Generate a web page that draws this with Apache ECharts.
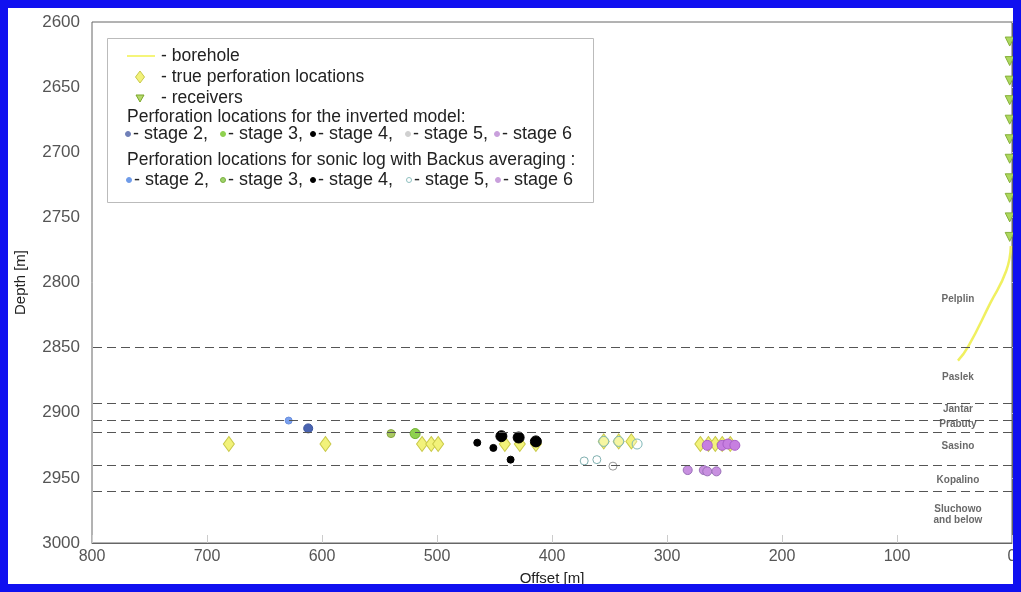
<!DOCTYPE html>
<html>
<head>
<meta charset="utf-8">
<script src="https://cdn.jsdelivr.net/npm/echarts@6/dist/echarts.min.js"></script>
<style>
html,body{margin:0;padding:0;background:#fff;}
#c{width:1021px;height:592px;}
</style>
</head>
<body>
<div id="c"></div>
<script>
// ---- data ----
var xTicks = [800,700,600,500,400,300,200,100,0];
var yTicks = [2600,2650,2700,2750,2800,2850,2900,2950,3000];
var boreholePts = [[1,2772],[5,2791],[19,2816],[38,2849],[47,2860]];
var receiverDepths = [2615,2630,2645,2660,2675,2690,2705,2720,2735,2750,2765];
var receiverOffset = 2;
var truePerf = [[681,2924],[597,2924],[513,2924],[505,2924],[499,2924],[441,2924],[428,2924],[414,2924],[355,2922],[342,2922],[331,2922],[271,2924],[264,2924],[258,2924],[252,2924],[245,2924]];
var inv2 = [[612,2912]];
var inv3 = [[519,2916]];
var inv4 = [[444,2918],[429,2919],[414,2922]];
var inv5 = [[347,2941]];
var inv6 = [[265,2925],[252,2925],[247,2924],[241,2925]];
var bac2 = [[629,2906]];
var bac3 = [[540,2916]];
var bac4 = [[465,2923],[451,2927],[436,2936]];
var bac5 = [[355,2922],[342,2922],[326,2924],[372,2937],[361,2936]];
var bac6 = [[282,2944],[268,2944],[265,2945],[257,2945]];
var boundaries = [2850,2893,2906,2915,2940,2960];
var formationNames = ['Pelplin','Paslek','Jantar','Prabuty','Sasino','Kopalino','Sluchowo\nand below'];
var formationDepths = [2813,2873,2897,2909,2926,2952,2978];
var formationOffset = 47;

var chart = echarts.init(document.getElementById('c'), null, {renderer:'canvas'});
var font = 'Liberation Sans, Arial, sans-serif';

function legendText(x,y,t,fs){return {type:'text',x:x,y:y,style:{text:t,font:(fs||17.5)+'px '+font,fill:'#222',verticalAlign:'middle'}};}
function legendDot(x,y,fill,stroke,r){return {type:'circle',shape:{cx:x,cy:y,r:r||2.5},style:{fill:fill,stroke:stroke||fill,lineWidth:1}};}

var L1 = 56, L2 = 77, L3 = 98, L4 = 117, L5 = 134, L6 = 160, L7 = 180;
var S = 18;
var graphics = [
  {type:'rect',shape:{x:4,y:4,width:1013,height:584},style:{fill:'none',stroke:'#1010f0',lineWidth:8},z:100},
  {type:'rect',shape:{x:107.5,y:38.5,width:486,height:164},style:{fill:'#fff',stroke:'#bbb',lineWidth:1},z:10},
  {type:'line',shape:{x1:127,y1:L1,x2:155,y2:L1},style:{stroke:'#f5f57a',lineWidth:2},z:11},
  legendText(161,L1,'- borehole'),
  {type:'polygon',shape:{points:[[140,L2-6],[144.5,L2],[140,L2+6],[135.5,L2]]},style:{fill:'#f2f27a',stroke:'#c9c94a',lineWidth:1},z:11},
  legendText(161,L2,'- true perforation locations'),
  {type:'polygon',shape:{points:[[136,L3-3],[144,L3-3],[140,L3+4]]},style:{fill:'#b5d96a',stroke:'#7aa62a',lineWidth:1},z:11},
  legendText(161,L3,'- receivers'),
  legendText(127,L4,'Perforation locations for the inverted model:'),
  legendDot(128,L5,'#7080b8'),
  legendText(133,L5,'- stage 2,',S),
  legendDot(223,L5,'#8fd14f'),
  legendText(228,L5,'- stage 3,',S),
  legendDot(313,L5,'#000'),
  legendText(318,L5,'- stage 4,',S),
  legendDot(408,L5,'#d0d0d0'),
  legendText(413,L5,'- stage 5,',S),
  legendDot(497,L5,'#c9a0dc'),
  legendText(502,L5,'- stage 6',S),
  legendText(127,L6,'Perforation locations for sonic log with Backus averaging :'),
  legendDot(129,L7,'#6f9be8'),
  legendText(134,L7,'- stage 2,',S),
  legendDot(223,L7,'#9ed26a','#7ab040'),
  legendText(228,L7,'- stage 3,',S),
  legendDot(313,L7,'#000'),
  legendText(318,L7,'- stage 4,',S),
  legendDot(409,L7,'#fff','#8fbfbf'),
  legendText(414,L7,'- stage 5,',S),
  legendDot(498,L7,'#c9a0dc'),
  legendText(503,L7,'- stage 6',S)
];
graphics.forEach(function(g){ if(g.z===undefined) g.z = 11; });

var formationData = formationDepths.map(function(d,i){return {value:[formationOffset,d],name:formationNames[i]};});

function scatter(data,symbol,size,fill,stroke,z,rot){
  return {type:'scatter',data:data,symbol:symbol,symbolSize:size,symbolRotate:rot||0,z:z||3,
    itemStyle:{color:fill,borderColor:stroke,borderWidth:1,opacity:1},clip:false,silent:true};
}

var option = {
  animation:false,
  backgroundColor:'#fff',
  grid:{left:92,right:9,top:22,bottom:49,show:true,borderColor:'#666',borderWidth:1,backgroundColor:'transparent'},
  xAxis:{type:'value',min:0,max:800,interval:100,inverse:true,
    name:'Offset [m]',nameLocation:'middle',nameGap:28,
    nameTextStyle:{fontFamily:font,fontSize:15,color:'#222'},
    axisLine:{show:true,lineStyle:{color:'#666'}},
    axisTick:{show:true,inside:true,length:8,lineStyle:{color:'#ccc'}},
    axisLabel:{fontFamily:font,fontSize:16,color:'#555',margin:6,formatter:function(v){return String(v);}},
    splitLine:{show:false}},
  yAxis:{type:'value',min:2600,max:3000,interval:50,inverse:true,
    name:'Depth [m]',nameLocation:'middle',nameGap:64,nameRotate:90,
    nameTextStyle:{fontFamily:font,fontSize:15,color:'#222'},
    axisLine:{show:true,lineStyle:{color:'#666'}},
    axisTick:{show:true,inside:true,length:6,lineStyle:{color:'#ccc'}},
    axisLabel:{fontFamily:font,fontSize:17,color:'#555',margin:12,formatter:function(v){return String(v);}},
    splitLine:{show:false}},
  graphic:graphics,
  series:[
    {type:'line',data:[],silent:true,
      markLine:{symbol:'none',silent:true,label:{show:false},
        lineStyle:{color:'#555',type:[9,5],width:1},
        data:boundaries.map(function(b){return {yAxis:b};})}},
    {type:'line',data:boreholePts,smooth:0.5,showSymbol:false,symbol:'none',clip:false,
      lineStyle:{color:'#f0f060',width:2.5},z:2,silent:true},
    scatter(receiverDepths.map(function(d){return [receiverOffset,d];}),'triangle',9,'#add85e','#86b03a',4,180),
    {type:'scatter',data:formationData,symbolSize:0,silent:true,
      label:{show:true,position:'inside',formatter:function(p){return p.name;},
        fontFamily:font,fontSize:10,fontWeight:'bold',color:'#444',lineHeight:11}},
    scatter(truePerf,'diamond',[11,15],'#f2f27a','#c9c94a',3),
    scatter(inv2,'circle',9,'#4a64b0','#3a54a0',4),
    scatter(bac2,'circle',7,'#7aa0ee','#6a90de',4),
    scatter(inv3,'circle',10,'#8fd14f','#70b030',4),
    scatter(bac3,'circle',8,'#a8c860','#88a840',4),
    scatter(inv4,'circle',11,'#000','#000',4),
    scatter(bac4,'circle',7,'#000','#000',4),
    scatter(inv5,'circle',8,'#fff','#999',4),
    scatter(bac5.slice(0,3),'circle',10,'rgba(255,255,255,0.3)','#7fb8b8',5),
    scatter(bac5.slice(3),'circle',8,'#fff','#80b0b0',4),
    scatter(inv6,'circle',10,'#c77fe0','#a860c8',5),
    scatter(bac6,'circle',9,'#c890e0','#9a70b8',4)
  ]
};
chart.setOption(option);
</script>
</body>
</html>
